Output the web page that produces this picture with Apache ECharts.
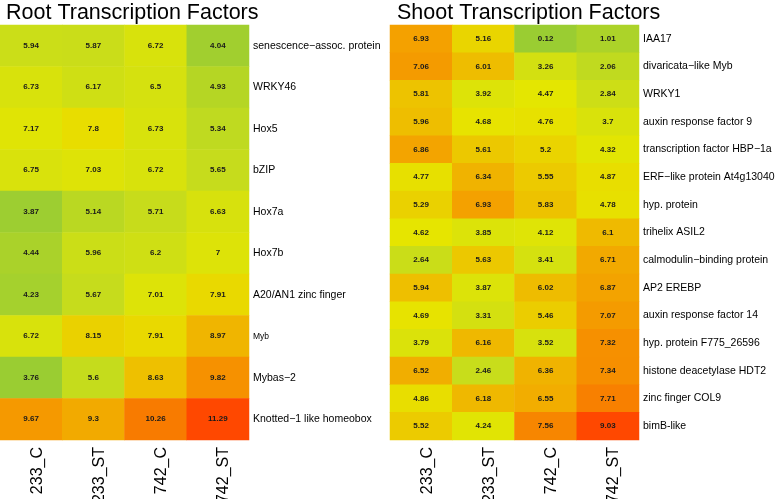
<!DOCTYPE html>
<html><head><meta charset="utf-8">
<script src="https://cdn.jsdelivr.net/npm/echarts@6/dist/echarts.min.js"></script>
<style>html,body{margin:0;padding:0;background:#fff}#c{width:778px;height:499px}</style>
</head><body><div id="c"></div>
<script>
const columns = ['233_C','233_ST','742_C','742_ST'];
const rootGenes = ['senescence\u2212assoc. protein','WRKY46','Hox5','bZIP','Hox7a','Hox7b','A20/AN1 zinc finger','Myb','Mybas\u22122','Knotted\u22121 like homeobox'];
const rootValues = [
  [5.94,5.87,6.72,4.04],
  [6.73,6.17,6.5,4.93],
  [7.17,7.8,6.73,5.34],
  [6.75,7.03,6.72,5.65],
  [3.87,5.14,5.71,6.63],
  [4.44,5.96,6.2,7],
  [4.23,5.67,7.01,7.91],
  [6.72,8.15,7.91,8.97],
  [3.76,5.6,8.63,9.82],
  [9.67,9.3,10.26,11.29]
];
const shootGenes = ['IAA17','divaricata\u2212like Myb','WRKY1','auxin response factor 9','transcription factor HBP\u22121a','ERF\u2212like protein At4g13040','hyp. protein','trihelix ASIL2','calmodulin\u2212binding protein','AP2 EREBP','auxin response factor 14','hyp. protein F775_26596','histone deacetylase HDT2','zinc finger COL9','bimB-like'];
const shootValues = [
  [6.93,5.16,0.12,1.01],
  [7.06,6.01,3.26,2.06],
  [5.81,3.92,4.47,2.84],
  [5.96,4.68,4.76,3.7],
  [6.86,5.61,5.2,4.32],
  [4.77,6.34,5.55,4.87],
  [5.29,6.93,5.83,4.78],
  [4.62,3.85,4.12,6.1],
  [2.64,5.63,3.41,6.71],
  [5.94,3.87,6.02,6.87],
  [4.69,3.31,5.46,7.07],
  [3.79,6.16,3.52,7.32],
  [6.52,2.46,6.36,7.34],
  [4.86,6.18,6.55,7.71],
  [5.52,4.24,7.56,9.03]
];
const titles = ['Root Transcription Factors','Shoot Transcription Factors'];
const palette = ['#9acd32','#c6dc1c','#e6e600','#f3a600','#ff4800'];

function toData(vals){const d=[];vals.forEach((r,i)=>r.forEach((v,j)=>d.push([j,i,v])));return d;}
function mm(vals){const f=vals.flat();return [Math.min(...f),Math.max(...f)];}
const FF = '"Liberation Sans", Arial, Helvetica, sans-serif';
const chart = echarts.init(document.getElementById('c'));
const [rmin,rmax]=mm(rootValues), [smin,smax]=mm(shootValues);
const xAx = i => ({type:'category',gridIndex:i,data:columns,position:'bottom',
  axisLine:{show:false},axisTick:{show:false},splitLine:{show:false},
  axisLabel:{rotate:90,fontSize:16,color:'#000',fontFamily:FF,margin:7,verticalAlign:'top',lineHeight:12}});
const yAx = (i,cats) => ({type:'category',gridIndex:i,data:cats,inverse:true,position:'right',
  axisLine:{show:false},axisTick:{show:false},splitLine:{show:false},
  axisLabel:{fontSize:10.5,color:'#000',fontFamily:FF,margin:4,
    formatter:v=> v==='Myb' ? '{s|'+v+'}' : v, rich:{s:{fontSize:8.5,fontFamily:FF,color:'#000'}}}});
const lbl = {show:true,color:'#1a1a1a',fontSize:8,fontWeight:'bold',fontFamily:FF,formatter:p=>String(p.value[2])};
chart.setOption({
  animation:false,
  title:[
    {text:titles[0],left:1,top:-3,textStyle:{fontSize:21.5,fontWeight:'normal',color:'#000',fontFamily:FF}},
    {text:titles[1],left:392,top:-3,textStyle:{fontSize:21.5,fontWeight:'normal',color:'#000',fontFamily:FF}}
  ],
  grid:[
    {left:0,top:25,width:249,height:415,outerBoundsMode:'none',containLabel:false},
    {left:390,top:25,width:249,height:415,outerBoundsMode:'none',containLabel:false}
  ],
  xAxis:[xAx(0),xAx(1)],
  yAxis:[yAx(0,rootGenes),yAx(1,shootGenes)],
  visualMap:[
    {show:false,seriesIndex:0,min:rmin,max:rmax,dimension:2,inRange:{color:palette}},
    {show:false,seriesIndex:1,min:smin,max:smax,dimension:2,inRange:{color:palette}}
  ],
  series:[
    {type:'heatmap',xAxisIndex:0,yAxisIndex:0,data:toData(rootValues),label:lbl,itemStyle:{borderWidth:0}},
    {type:'heatmap',xAxisIndex:1,yAxisIndex:1,data:toData(shootValues),label:lbl,itemStyle:{borderWidth:0}}
  ]
});
</script></body></html>
